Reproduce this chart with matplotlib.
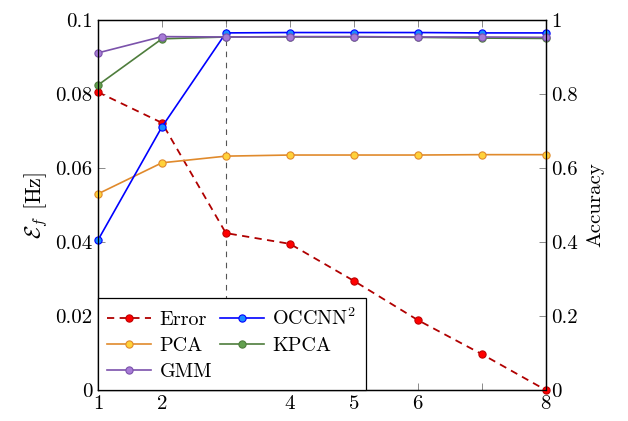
import numpy as np
import matplotlib
matplotlib.use('Agg')
import matplotlib.pyplot as plt

plt.rcParams['font.family'] = ['cmr10']
plt.rcParams['mathtext.fontset'] = 'cm'
plt.rcParams['axes.formatter.use_mathtext'] = True

# number of components on the x axis
n_comp = [1, 2, 3, 4, 5, 6, 7, 8]
xtick_labels = ['1', '2', '', '4', '5', '6', '', '8']

# frequency error (left axis, Hz)
err = [0.0805, 0.0722, 0.0424, 0.0395, 0.0295, 0.0189, 0.0097, 0.0]

# accuracy of each detector (right axis)
occnn = [0.405, 0.711, 0.965, 0.966, 0.966, 0.966, 0.965, 0.965]
pca = [0.530, 0.614, 0.632, 0.635, 0.635, 0.635, 0.636, 0.636]
kpca = [0.824, 0.949, 0.954, 0.954, 0.954, 0.953, 0.951, 0.950]
gmm = [0.911, 0.955, 0.954, 0.955, 0.955, 0.954, 0.954, 0.953]

fig = plt.figure(figsize=(6.28, 4.21), dpi=100)
ax = fig.add_axes([0.156, 0.0736, 0.713, 0.879])
ax2 = ax.twinx()

ms = 5.2
ax.axvline(3, color='#555555', ls=(0, (5, 5)), lw=0.8, zorder=1)
h_err, = ax.plot(n_comp, err, ls=(0, (4, 3)), color='#b00000', lw=1.3, marker='o', ms=ms,
                 mfc='#ff0000', mec='#c00000', mew=0.8, label='Error', zorder=3, clip_on=False)

style = dict(lw=1.2, marker='o', ms=ms, mew=0.8, clip_on=False)
h_pca, = ax2.plot(n_comp, pca, color='#e08a2c', mfc='#ffd23a', mec='#e08a2c', label='PCA', **style)
h_kpca, = ax2.plot(n_comp, kpca, color='#4e7d3c', mfc='#62a04e', mec='#4e7d3c', label='KPCA', **style)
h_occ, = ax2.plot(n_comp, occnn, color='#0000ff', mfc='#1a8cff', mec='#0000ff', label='OCCNN$^2$', **style)
h_gmm, = ax2.plot(n_comp, gmm, color='#7b52ab', mfc='#a77bd6', mec='#7b52ab', label='GMM', **style)

ax.set_xlim(1, 8)
ax.set_ylim(0, 0.1)
ax2.set_ylim(0, 1)
ax.set_xticks(n_comp)
ax.set_xticklabels(xtick_labels)
ax.set_yticks([0, 0.02, 0.04, 0.06, 0.08, 0.1])
ax.set_yticklabels(['0', '0.02', '0.04', '0.06', '0.08', '0.1'])
ax2.set_yticks([0, 0.2, 0.4, 0.6, 0.8, 1])
ax2.set_yticklabels(['0', '0.2', '0.4', '0.6', '0.8', '1'])

for a in (ax, ax2):
    a.tick_params(direction='in', length=5, width=0.6, color='#777777', labelsize=15, pad=4)
    for s in a.spines.values():
        s.set_linewidth(0.9)
ax.tick_params(top=True, right=False)
ax2.tick_params(right=True, left=False)

ax.set_ylabel(r'$\mathcal{E}_f$ [Hz]', fontsize=16, labelpad=4)
ax2.set_ylabel('Accuracy', fontsize=15, labelpad=6)

handles = [h_err, h_pca, h_gmm, h_occ, h_kpca]
leg = ax2.legend(handles, [h.get_label() for h in handles], ncol=2, loc='lower left',
                 borderaxespad=0, fontsize=14.5, frameon=True, fancybox=False,
                 edgecolor='black', framealpha=1, handlelength=2.2,
                 handletextpad=0.4, columnspacing=0.4, labelspacing=0.4,
                 borderpad=0.45)
leg.get_frame().set_linewidth(0.9)

fig.savefig('out.png', dpi=100)
